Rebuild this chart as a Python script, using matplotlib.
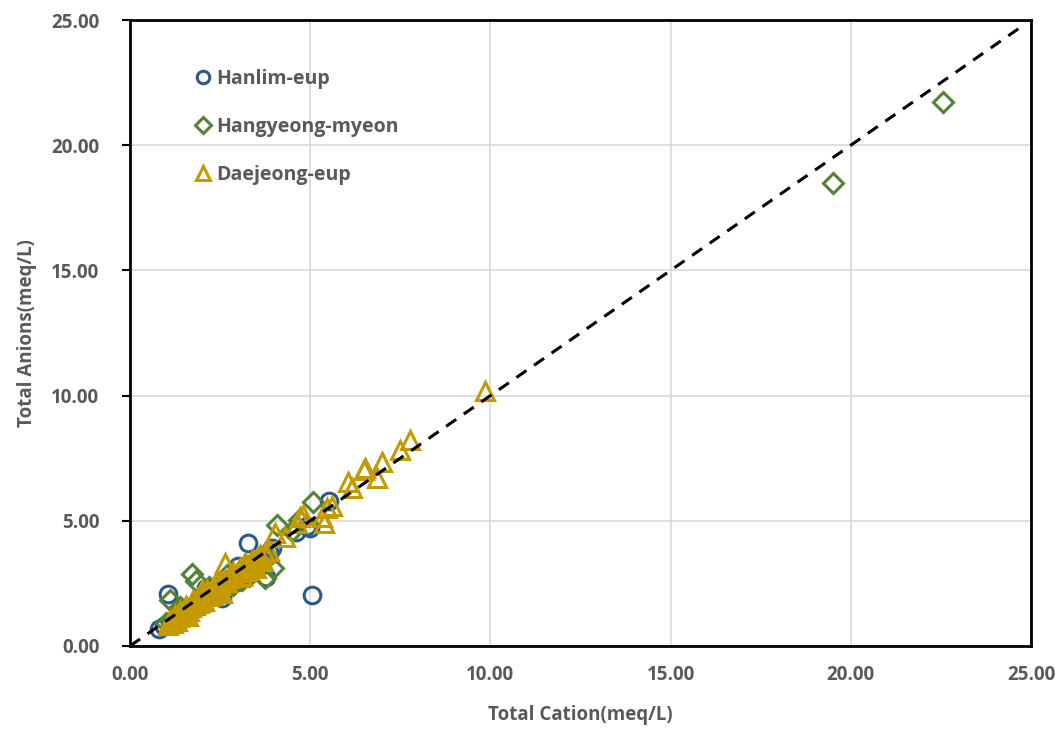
import matplotlib.pyplot as plt

# Hanlim-eup
hanlim_x = [0.80, 1.05, 2.56, 3.28, 3.78, 5.05, 5.00, 5.52, 3.95, 2.96,
            0.95, 1.10, 1.25, 1.35, 1.50, 1.60, 1.75, 1.90, 2.05, 2.20,
            2.35, 2.50, 2.65, 2.80, 2.95, 3.10, 3.25, 3.40, 3.55, 3.70,
            3.85, 1.40, 2.10, 3.00, 3.60, 4.60, 4.90]
hanlim_y = [0.68, 2.07, 1.90, 4.12, 2.76, 2.02, 4.72, 5.78, 3.92, 2.55,
            0.80, 0.95, 1.05, 1.20, 1.35, 1.30, 1.60, 1.75, 1.85, 2.05,
            2.20, 2.30, 2.55, 2.70, 2.85, 2.95, 3.15, 3.30, 3.40, 3.55,
            3.75, 1.45, 2.30, 3.20, 3.20, 4.55, 4.80]

# Hangyeong-myeon
hangyeong_x = [22.56, 19.52, 1.72, 1.82, 1.12, 5.08, 4.08, 3.98, 3.76, 2.62,
               1.00, 1.15, 1.30, 1.45, 1.55, 1.70, 1.85, 2.00, 2.15, 2.30,
               2.45, 2.60, 2.75, 2.90, 3.05, 3.20, 3.35, 3.50, 3.65, 3.80,
               2.85, 3.30, 4.50, 4.70, 1.40, 2.20, 3.10, 2.70]
hangyeong_y = [21.72, 18.48, 2.88, 2.58, 1.84, 5.75, 4.82, 3.12, 2.72, 2.55,
               0.90, 1.00, 1.15, 1.25, 1.50, 1.55, 1.70, 1.90, 2.00, 2.15,
               2.40, 2.45, 2.60, 2.70, 2.90, 2.95, 3.20, 3.35, 3.30, 3.60,
               2.45, 2.80, 4.60, 5.05, 1.55, 2.35, 2.65, 2.85]

# Daejeong-eup
daejeong_x = [9.86, 7.78, 7.50, 6.99, 6.85, 6.53, 6.50, 6.06, 6.16, 5.46,
              5.32, 5.37, 4.72, 4.63, 4.31, 4.03, 5.60, 4.80,
              1.05, 1.15, 1.20, 1.30, 1.35, 1.45, 1.50, 1.55, 1.65, 1.70,
              1.80, 1.85, 1.95, 2.00, 2.10, 2.20, 2.25, 2.35, 2.45, 2.50,
              2.60, 2.65, 2.70, 2.80, 2.90, 3.00, 3.05, 3.15, 3.25, 3.35,
              3.45, 3.55, 3.65, 3.75, 3.85, 1.25, 1.60, 2.40, 3.10, 3.50,
              2.00, 2.55, 1.10, 1.40, 1.75, 1.90, 2.15, 2.30, 2.85, 3.20,
              3.40, 3.70, 1.20, 1.55, 2.05, 2.75, 3.30, 3.60]
daejeong_y = [10.18, 8.23, 7.83, 7.36, 6.70, 7.10, 7.03, 6.56, 6.30, 5.50,
              5.16, 4.90, 5.16, 4.90, 4.36, 4.50, 5.60, 5.25,
              0.85, 0.95, 1.05, 1.00, 1.15, 1.20, 1.30, 1.45, 1.40, 1.55,
              1.65, 1.80, 1.75, 1.95, 2.05, 2.00, 2.20, 2.30, 2.25, 2.45,
              2.60, 3.30, 2.55, 2.80, 2.75, 2.95, 3.10, 3.00, 3.20, 3.35,
              3.25, 3.50, 3.45, 3.70, 3.80, 1.25, 1.20, 2.55, 2.80, 3.10,
              2.25, 2.10, 1.05, 1.40, 1.85, 1.70, 2.25, 2.05, 2.95, 3.30,
              3.45, 3.40, 0.90, 1.60, 1.80, 2.70, 3.05, 3.65]

line_x = [0, 24.8]
ticks = [0, 5, 10, 15, 20, 25]

plt.rcParams['font.family'] = ['Open Sans', 'DejaVu Sans']
fig = plt.figure(figsize=(10.62, 7.36), dpi=100)
ax = fig.add_axes([0.1224, 0.1223, 0.8484, 0.8505])

ms = 12
ax.plot(hanlim_x, hanlim_y, 'o', ls='none', ms=ms, mfc='none', mec='#2A5A8A',
        mew=2.2, label='Hanlim-eup')
ax.plot(hangyeong_x, hangyeong_y, 'D', ls='none', ms=ms * 0.85, mfc='none',
        mec='#548235', mew=2.2, label='Hangyeong-myeon')
ax.plot(daejeong_x, daejeong_y, '^', ls='none', ms=ms * 1.05, mfc='none',
        mec='#C49A00', mew=2.2, label='Daejeong-eup')
ax.plot(line_x, line_x, '--', color='black', lw=2.2, dashes=(4, 3), zorder=5)

ax.set_xlim(0, 25)
ax.set_ylim(0, 25)
ax.set_xticks(ticks)
ax.set_yticks(ticks)
ax.set_xticklabels([f'{t:.2f}' for t in ticks])
ax.set_yticklabels([f'{t:.2f}' for t in ticks])
ax.grid(True, color='#D9D9D9', lw=1.2)
ax.set_axisbelow(True)
for s in ax.spines.values():
    s.set_linewidth(2)
    s.set_color('black')
ax.tick_params(axis='x', length=0, pad=14, labelsize=13.5, labelcolor='#595959')
ax.tick_params(axis='y', length=6, width=1.5, pad=16, labelsize=13.5,
               labelcolor='#595959')
for lbl in ax.get_xticklabels() + ax.get_yticklabels():
    lbl.set_fontweight('bold')

ax.set_xlabel('Total Cation(meq/L)', fontsize=13.5, fontweight='bold',
              color='#595959', labelpad=14)
ax.set_ylabel('Total Anions(meq/L)', fontsize=13.5, fontweight='bold',
              color='#595959', labelpad=10)

leg = ax.legend(loc='upper left', bbox_to_anchor=(0.055, 0.95), frameon=False,
                markerscale=0.75, handlelength=0.6, handletextpad=0.4,
                labelspacing=1.45, prop={'size': 14, 'weight': 'bold'})
for t in leg.get_texts():
    t.set_color('#595959')

fig.savefig('out.png', dpi=100)
